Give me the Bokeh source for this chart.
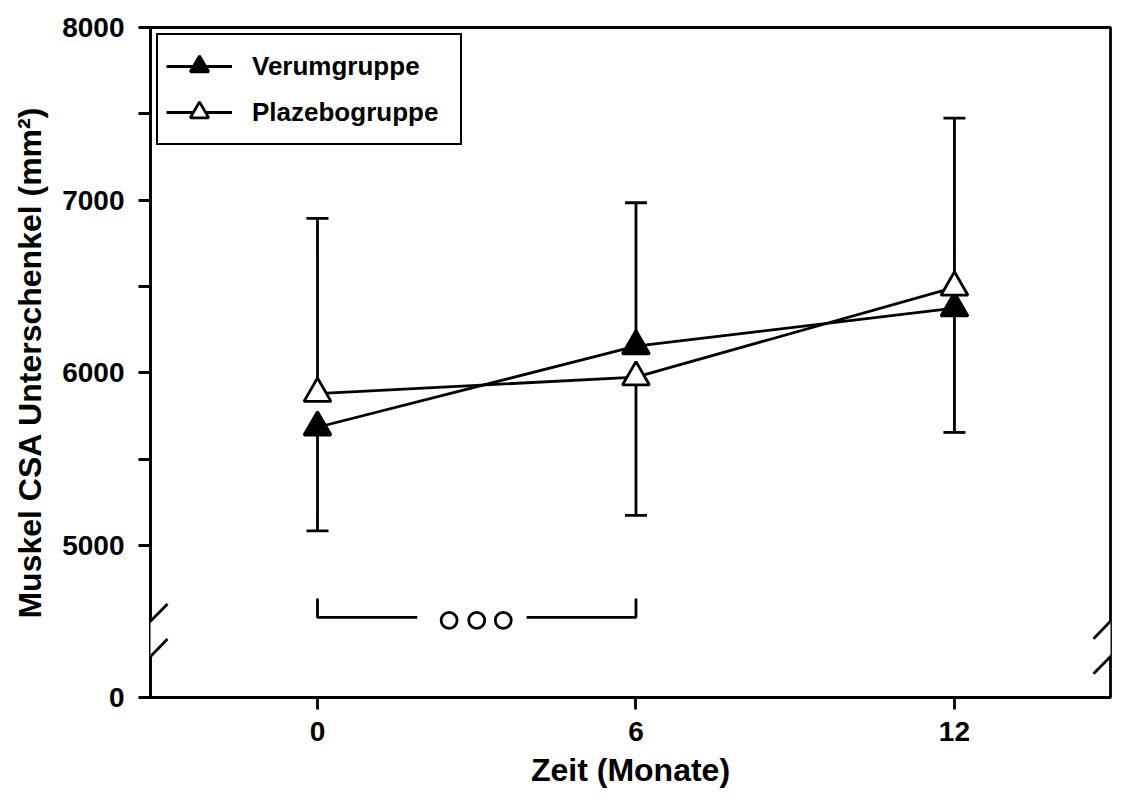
from bokeh.plotting import figure
from bokeh.models import (Range1d, FixedTicker, Legend, LegendItem,
                          BoxAnnotation, Arrow)
from bokeh.embed import file_html
from bokeh.resources import INLINE

# ---------------- data ----------------
months = [0, 6, 12]
verum_mean = [5685, 6155, 6375]
placebo_mean = [5880, 5975, 6495]
verum_sd = [600, 830, 720]
placebo_sd = [1015, 800, 980]
verum_bar_side = [-1, 1, -1]      # only the outer half of each error bar is shown
placebo_bar_side = [1, -1, 1]
x_ticks = [0, 6, 12]
y_tick_values = [5000, 5500, 6000, 6500, 7000, 7500, 8000]
y_tick_labels = ["5000", "", "6000", "", "7000", "", "8000"]
zero_label = "0"
bracket_months = [0, 6]
sig_months = [2.48, 3.0, 3.5]

# broken axis: the value 0 is drawn at Y_ZERO on the upper scale
Y_ZERO = 4120
BREAK_LO, BREAK_HI = 4358, 4561
X_MIN, X_MAX = -3.146, 14.94
Y_MAX = 8000

FONT = "Liberation Sans"
LW = 2.8

p = figure(width=1116, height=792, output_backend="svg", toolbar_location=None,
           x_range=Range1d(X_MIN, X_MAX), y_range=Range1d(Y_ZERO, Y_MAX),
           min_border_left=150, min_border_right=6, min_border_top=27,
           min_border_bottom=95)
p.background_fill_color = "white"
p.border_fill_color = "white"
p.xgrid.visible = False
p.ygrid.visible = False
p.outline_line_color = "black"
p.outline_line_width = LW
p.outline_line_alpha = 1

# axes
for ax in (p.xaxis[0], p.yaxis[0]):
    ax.axis_line_width = LW
    ax.axis_line_color = "black"
    ax.major_tick_line_width = LW
    ax.major_tick_line_color = "black"
    ax.major_tick_out = 12
    ax.major_tick_in = 0
    ax.minor_tick_line_color = None
    ax.major_label_text_font = FONT
    ax.major_label_text_font_style = "bold"
    ax.major_label_text_font_size = "28px"
    ax.major_label_text_color = "black"
    ax.axis_label_text_font = FONT
    ax.axis_label_text_font_style = "bold"
    ax.axis_label_text_font_size = "32px"
    ax.axis_label_text_color = "black"

p.xaxis.ticker = FixedTicker(ticks=x_ticks)
p.xaxis.axis_label = "Zeit (Monate)"
p.xaxis.major_label_standoff = 12
p.xaxis.axis_label_standoff = 8

p.yaxis.ticker = FixedTicker(ticks=[Y_ZERO] + y_tick_values)
overrides = {Y_ZERO: zero_label}
for v, lab in zip(y_tick_values, y_tick_labels):
    overrides[v] = lab
p.yaxis.major_label_overrides = overrides
p.yaxis.axis_label = "Muskel CSA Unterschenkel (mm²)"
p.yaxis.major_label_standoff = 14
p.yaxis.axis_label_standoff = 11

# error bars (outer half only)
v_end = [m + s * sd for m, s, sd in zip(verum_mean, verum_bar_side, verum_sd)]
pl_end = [m + s * sd for m, s, sd in zip(placebo_mean, placebo_bar_side, placebo_sd)]
p.segment(x0=months, y0=verum_mean, x1=months, y1=v_end, line_color="black", line_width=LW)
p.segment(x0=months, y0=placebo_mean, x1=months, y1=pl_end, line_color="black", line_width=LW)
p.scatter(months, v_end, marker="dash", size=22, line_color="black", line_width=LW)
p.scatter(months, pl_end, marker="dash", size=22, line_color="black", line_width=LW)

# lines and markers
lv = p.line(months, verum_mean, line_color="black", line_width=LW)
lp = p.line(months, placebo_mean, line_color="black", line_width=LW)
sv = p.scatter(months, verum_mean, marker="triangle", size=27, fill_color="black",
               line_color="black", line_width=LW)
sp = p.scatter(months, placebo_mean, marker="triangle", size=27, fill_color="white",
               line_color="black", line_width=LW)

# significance bracket between 0 and 6 months
BR_Y, BR_TOP = 4584, 4694
gap_l, gap_r = 1.88, 3.94
p.line([bracket_months[0], bracket_months[0], gap_l], [BR_TOP, BR_Y, BR_Y],
       line_color="black", line_width=LW)
p.line([gap_r, bracket_months[1], bracket_months[1]], [BR_Y, BR_Y, BR_TOP],
       line_color="black", line_width=LW)
p.scatter(sig_months, [BR_Y - 17] * len(sig_months), marker="circle", size=16,
          fill_color="white", line_color="black", line_width=LW)

# legend
legend = Legend(items=[LegendItem(label="Verumgruppe", renderers=[lv, sv]),
                       LegendItem(label="Plazebogruppe", renderers=[lp, sp])],
                location="top_left", margin=6, padding=8, spacing=0,
                glyph_width=66, glyph_height=46, label_standoff=20, label_width=200,
                border_line_color="black", border_line_width=LW, border_line_alpha=1,
                background_fill_color="white", background_fill_alpha=1,
                label_text_font=FONT, label_text_font_style="bold",
                label_text_font_size="26px", label_text_color="black")
p.add_layout(legend)

# axis breaks: blank the frame lines and draw slashes
dx = 0.10
for xb in (X_MIN, X_MAX):
    p.add_layout(BoxAnnotation(left=xb - dx, right=xb + dx, bottom=BREAK_LO, top=BREAK_HI,
                               fill_color="white", fill_alpha=1, line_color=None,
                               level="overlay"))
    for yb in (BREAK_LO, BREAK_HI):
        p.add_layout(Arrow(end=None, x_start=xb - 0.32, y_start=yb - 101,
                           x_end=xb + 0.32, y_end=yb + 101,
                           line_color="black", line_width=LW, level="overlay"))

open("out.html", "w").write(file_html(p, INLINE))
